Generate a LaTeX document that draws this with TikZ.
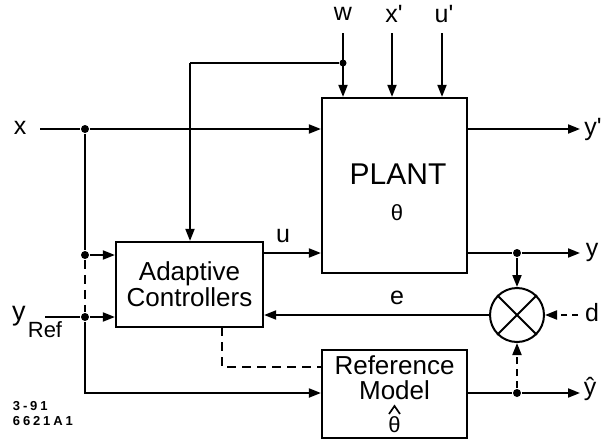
\documentclass[tikz,border=0pt]{standalone}
\usepackage{fontspec}
\setmainfont{Liberation Sans}
\usetikzlibrary{arrows.meta}
\begin{document}
\begin{tikzpicture}[x=1pt,y=-1pt,
  line width=1.9pt,
  arr/.style={-{Triangle[length=12pt,width=9pt]}},
  blk/.style={draw,line width=2.2pt,rectangle,inner sep=0pt},
  dot/.style={circle,fill,inner sep=0pt,minimum size=8pt},
  lbl/.style={font=\fontsize{25}{25}\selectfont,inner sep=0pt},
  btxt/.style={font=\fontsize{26}{26}\selectfont,inner sep=0pt},
  dsh/.style={dash pattern=on 9pt off 6pt}]
\useasboundingbox (0,0) rectangle (602,442);
% blocks
\node[blk,minimum width=145pt,minimum height=175pt] (plant) at (394.5,185.5) {};
\node[blk,minimum width=147pt,minimum height=85pt] (ac) at (189.5,284.5) {};
\node[blk,minimum width=145pt,minimum height=88pt] (ref) at (394.5,394) {};
\node[draw,circle,line width=2pt,minimum size=54pt,inner sep=0pt] (sum) at (517,315) {};
\draw[line width=2pt] (sum.north west) -- (sum.south east) (sum.north east) -- (sum.south west);
% texts in blocks
\node[font=\fontsize{30}{30}\selectfont,inner sep=0pt] (tplant) at (398,174) {PLANT};
\node[font=\fontsize{22}{22}\selectfont,inner sep=0pt] (tth) at (397,213) {θ};
\node[btxt,align=center] (tac) at (189.5,284) {Adaptive\\Controllers};
\node[btxt] (tref1) at (394.5,365) {Reference};
\node[btxt] (tref2) at (394.5,390) {Model};
\node[font=\fontsize{22}{22}\selectfont,inner sep=0pt] (tth2) at (394.5,425) {θ};
\draw[line width=1.7pt] (389,414) -- (394.5,406) -- (400,414);
% junctions
\node[dot] (jx) at (85,129) {};
\node[dot] (j1) at (85,255) {};
\node[dot] (j2) at (85,317) {};
\node[dot,minimum size=7pt] (jw) at (343,63) {};
\node[dot] (jy) at (517,253) {};
\node[dot] (jyh) at (517,393) {};
% coordinates
\coordinate (xin) at (40,129);
\coordinate (yrin) at (45,317);
\coordinate (fbc) at (190,63);
\coordinate (wt) at (343,33);
\coordinate (xpt) at (392,33);
\coordinate (upt) at (442,33);
\coordinate (ypend) at (580,129);
\coordinate (yend) at (580,253);
\coordinate (yhend) at (580,393);
\coordinate (dst) at (578,315);
\coordinate (acd) at (222,327);
\coordinate (refd) at (322,367);
\coordinate (jb) at (85,393);
% labels
\node[lbl] (lx) at (20,128) {x};
\node[lbl] (lw) at (343,14) {w};
\node[lbl] (lxp) at (394,14) {x\textquotesingle};
\node[lbl] (lup) at (444,14) {u\textquotesingle};
\node[lbl] (lyp) at (593,129) {y\textquotesingle};
\node[lbl] (ly) at (592,252) {y};
\node[lbl] (ld) at (592,313) {d};
\node[lbl] (lyh) at (590,389) {ŷ};
\node[lbl] (lu) at (283,236) {u};
\node[lbl] (le) at (397,298) {e};
\node[font=\fontsize{27}{27}\selectfont,inner sep=0pt] (lyr) at (19,316) {y};
\node[font=\fontsize{22}{22}\selectfont,inner sep=0pt] (lref) at (45,330) {Ref};
\node[font=\bfseries\fontsize{13}{15}\selectfont\addfontfeature{LetterSpace=22},align=left,inner sep=0pt,anchor=north west] (code) at (12,400) {3-91\\6621A1};
% connectors
\draw (xin) -- (jx);
\draw[arr] (jx) -- (jx -| plant.west);
\draw (jx) -- (j1);
\draw[arr] (j1) -- (j1 -| ac.west);
\draw[dsh] (j1) -- (j2);
\draw (yrin) -- (j2);
\draw[arr] (j2) -- (j2 -| ac.west);
\draw[arr] (j2) -- (jb) -- (jb -| ref.west);
\draw[dsh] (acd) |- (refd);
\draw (jw) -- (fbc);
\draw[arr] (fbc) -- (fbc |- ac.north);
\draw[arr] (wt) -- (wt |- plant.north);
\draw[arr] (xpt) -- (xpt |- plant.north);
\draw[arr] (upt) -- (upt |- plant.north);
\draw[arr] (ac.east |- jy) -- (jy -| plant.west);
\draw[arr] (plant.east |- ypend) -- (ypend);
\draw (plant.east |- jy) -- (jy);
\draw[arr] (jy) -- (yend);
\draw[arr] (jy) -- (sum.north);
\draw[arr] (sum.west) -- (sum.west -| ac.east);
\draw[arr,dash pattern=on 6pt off 5pt] (dst) -- (sum.east);
\draw (ref.east |- jyh) -- (jyh);
\draw[arr] (jyh) -- (yhend);
\draw[arr,dash pattern=on 7pt off 5pt] (jyh) -- (sum.south);
\end{tikzpicture}
\end{document}
